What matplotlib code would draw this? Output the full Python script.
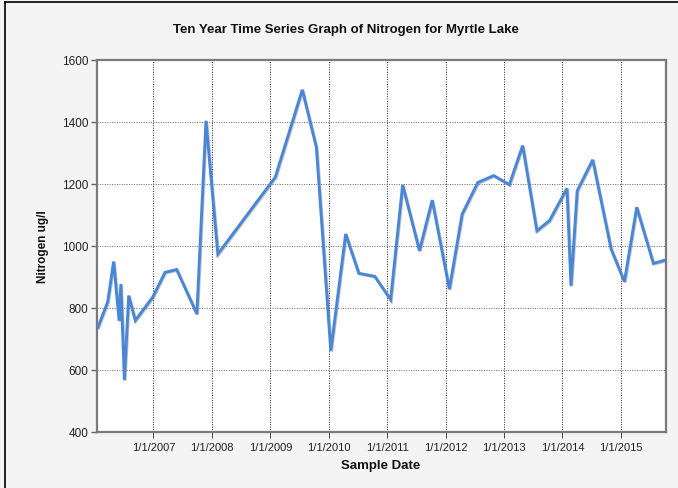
import matplotlib
matplotlib.use("Agg")
import matplotlib.pyplot as plt
from matplotlib.lines import Line2D
import matplotlib.patheffects as pe
import pandas as pd

dates = ["2006-01-20", "2006-03-22", "2006-04-28", "2006-06-01", "2006-06-12",
         "2006-07-04", "2006-07-31", "2006-09-10", "2006-12-28", "2007-03-15",
         "2007-05-27", "2007-09-30", "2007-11-26", "2008-02-08", "2009-02-01",
         "2009-07-20", "2009-10-16", "2010-01-14", "2010-04-17", "2010-07-08",
         "2010-10-16", "2011-01-23", "2011-04-08", "2011-07-22", "2011-10-10",
         "2012-01-25", "2012-04-14", "2012-07-21", "2012-10-28", "2013-02-03",
         "2013-04-27", "2013-07-25", "2013-10-12", "2014-01-29", "2014-02-23",
         "2014-04-03", "2014-07-09", "2014-11-01", "2015-01-23", "2015-04-10",
         "2015-07-23", "2015-10-10"]
nitrogen = [738, 820, 950, 759, 877,
            568, 840, 760, 835, 915,
            924, 781, 1404, 974, 1222,
            1504, 1318, 662, 1039, 912,
            902, 827, 1197, 985, 1148,
            861, 1103, 1205, 1227, 1198,
            1324, 1049, 1082, 1186, 872,
            1178, 1278, 990, 885, 1125,
            944, 955]
tick_years = [2007, 2008, 2009, 2010, 2011, 2012, 2013, 2014, 2015]
tick_labels = [f"1/1/{y}" for y in tick_years]
y_ticks = [400, 600, 800, 1000, 1200, 1400, 1600]

plt.rcParams['font.family'] = ['Liberation Sans', 'DejaVu Sans']

x = pd.to_datetime(dates)
fig = plt.figure(figsize=(6.78, 4.89), dpi=100)
fig.patch.set_facecolor('#f4f4f4')
ax = fig.add_axes([97/678, 1-433/489, (666-97)/678, (433-61)/489])
ax.set_facecolor('white')

ax.plot(x, nitrogen, color='#4a86d8', lw=2.1, solid_joinstyle='miter',
        path_effects=[pe.SimpleLineShadow(offset=(0.6, -0.6), shadow_color='#555555', alpha=0.35),
                      pe.Normal()], zorder=3)

ax.set_xlim(pd.Timestamp("2006-01-14"), pd.Timestamp("2015-10-10"))
ax.set_ylim(400, 1600)
ax.set_yticks(y_ticks)
ax.set_xticks([pd.Timestamp(f"{y}-01-01") for y in tick_years])
ax.set_xticklabels(tick_labels)

ax.grid(True, axis='x', color='#222222', linestyle=(0, (1, 1.5)), linewidth=0.7, zorder=1)
ax.grid(True, axis='y', color='#666666', linestyle=(0, (1, 1.5)), linewidth=0.7, zorder=1)
ax.tick_params(axis='y', direction='out', length=4, width=1, color='#666666',
               labelsize=8.5, labelcolor='#222222', pad=2)
ax.tick_params(axis='x', direction='out', length=4, width=0.7, color='#444444',
               labelsize=8, labelcolor='#222222', pad=3)
for s in ax.spines.values():
    s.set_color('#7a7a7a')
    s.set_linewidth(1.6)

fig.text(346/678, 1-30/489, "Ten Year Time Series Graph of Nitrogen for Myrtle Lake",
         ha='center', va='center', fontsize=9.5, fontweight='bold', color='#111111')
fig.text(381/678, 1-466/489, "Sample Date", ha='center', va='center',
         fontsize=9.5, fontweight='bold', color='#111111')
fig.text(43/678, 1-247/489, "Nitrogen ug/l", ha='center', va='center', rotation=90,
         fontsize=8.5, fontweight='bold', color='#111111')

# outer frame (partially visible)
fig.add_artist(Line2D([4.5/678, 4.5/678], [0, 1-2.5/489], transform=fig.transFigure,
                      color='black', lw=1.2))
fig.add_artist(Line2D([4.5/678, 1], [1-2.5/489, 1-2.5/489], transform=fig.transFigure,
                      color='black', lw=1.2))

fig.savefig("out.png", dpi=100, facecolor=fig.get_facecolor())
